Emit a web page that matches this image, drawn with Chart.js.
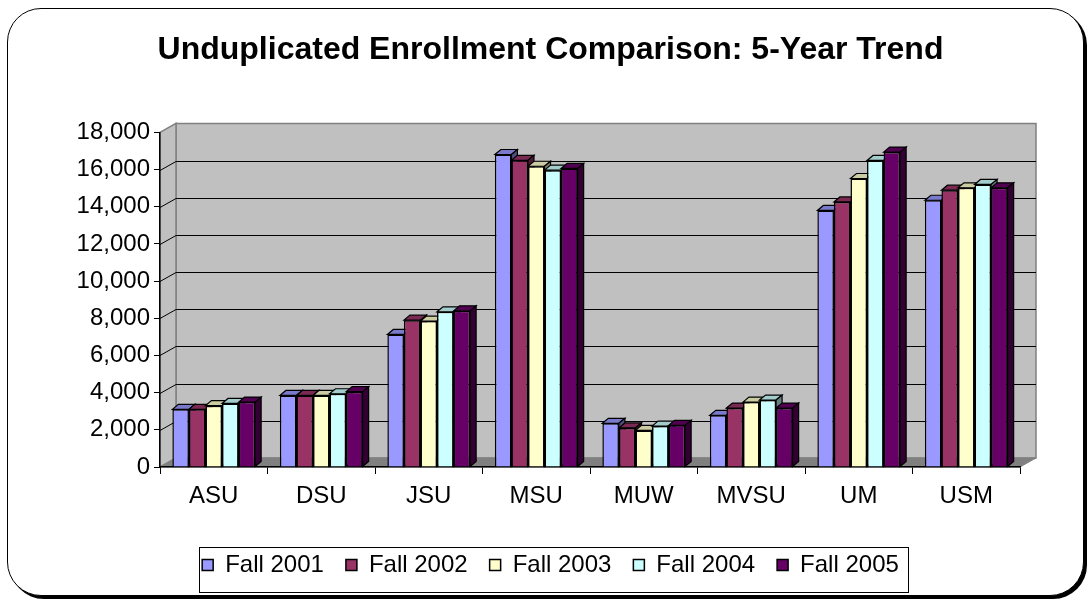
<!DOCTYPE html>
<html>
<head>
<meta charset="utf-8">
<script src="https://cdn.jsdelivr.net/npm/chart.js@4/dist/chart.umd.min.js"></script>
<style>
  body { margin: 0; background: #fff; }
  #frame {
    position: absolute; left: 7px; top: 8px; width: 1075px; height: 586px;
    border: 1.5px solid #000; border-radius: 34px; box-shadow: 3px 3px 0 #000;
    background: #fff;
  }
  #wrap { position: absolute; left: 0; top: 0; width: 1091px; height: 600px; }
</style>
</head>
<body>
<div id="frame"></div>
<div id="wrap"><canvas id="graphique"></canvas></div>
<script>
var schools = ['ASU', 'DSU', 'JSU', 'MSU', 'MUW', 'MVSU', 'UM', 'USM'];
var fall2001 = [3100, 3850, 7130, 16810, 2350, 2780, 13800, 14350];
var fall2002 = [3100, 3850, 7900, 16500, 2100, 3170, 14260, 14890];
var fall2003 = [3300, 3850, 7850, 16180, 1970, 3490, 15520, 15020];
var fall2004 = [3420, 3940, 8350, 15970, 2200, 3600, 16490, 15200];
var fall2005 = [3490, 4050, 8400, 16060, 2240, 3170, 16940, 15020];
var yTicks = [0, 2000, 4000, 6000, 8000, 10000, 12000, 14000, 16000, 18000];

var couleurs = ['#9999FF', '#993366', '#FFFFCC', '#CCFFFF', '#660066'];

// depth of the fake 3d walls and of the bars
var wallDx = 16, wallDy = -9;
var barDx = 6, barDy = -5;

function assombrir(hex, f) {
  var r = parseInt(hex.substr(1, 2), 16), g = parseInt(hex.substr(3, 2), 16), b = parseInt(hex.substr(5, 2), 16);
  return 'rgb(' + Math.round(r * f) + ',' + Math.round(g * f) + ',' + Math.round(b * f) + ')';
}

function poly(ctx, pts, fill, stroke, lw) {
  ctx.beginPath();
  ctx.moveTo(pts[0][0], pts[0][1]);
  for (var i = 1; i < pts.length; i++) ctx.lineTo(pts[i][0], pts[i][1]);
  ctx.closePath();
  if (fill) { ctx.fillStyle = fill; ctx.fill(); }
  if (stroke) { ctx.strokeStyle = stroke; ctx.lineWidth = lw || 1; ctx.stroke(); }
}

var murs = {
  id: 'murs',
  beforeDraw: function(chart) {
    var ctx = chart.ctx, a = chart.chartArea, ys = chart.scales.y;
    ctx.save();
    // back wall
    poly(ctx, [[a.left + wallDx, a.top + wallDy], [a.right + wallDx, a.top + wallDy],
               [a.right + wallDx, a.bottom + wallDy], [a.left + wallDx, a.bottom + wallDy]], '#C0C0C0', '#808080', 1.5);
    // side wall
    poly(ctx, [[a.left, a.top], [a.left + wallDx, a.top + wallDy],
               [a.left + wallDx, a.bottom + wallDy], [a.left, a.bottom]], '#C0C0C0', '#808080', 1.5);
    // floor
    poly(ctx, [[a.left, a.bottom], [a.left + wallDx, a.bottom + wallDy],
               [a.right + wallDx, a.bottom + wallDy], [a.right, a.bottom]], '#808080', '#808080', 1);
    // gridlines
    ctx.strokeStyle = '#000';
    ctx.lineWidth = 1;
    yTicks.forEach(function(v) {
      if (v === 0 || v === yTicks[yTicks.length - 1]) return;
      var y = Math.round(ys.getPixelForValue(v)) + 0.5;
      ctx.beginPath();
      ctx.moveTo(a.left, y);
      ctx.lineTo(a.left + wallDx, y + wallDy);
      ctx.lineTo(a.right + wallDx, y + wallDy);
      ctx.stroke();
    });
    ctx.restore();
  },
  beforeDatasetsDraw: function(chart) {
    var ctx = chart.ctx;
    ctx.save();
    chart.data.datasets.forEach(function(ds, i) {
      var meta = chart.getDatasetMeta(i);
      meta.data.forEach(function(el) {
        var l = el.x - el.width / 2, r = el.x + el.width / 2;
        poly(ctx, [[l, el.y], [l + barDx, el.y + barDy], [r + barDx, el.y + barDy], [r, el.y]],
             assombrir(couleurs[i], 0.8), '#000', 1.2);
        poly(ctx, [[r, el.y], [r + barDx, el.y + barDy], [r + barDx, el.base + barDy], [r, el.base]],
             assombrir(couleurs[i], 0.5), '#000', 1.2);
      });
    });
    ctx.restore();
  },
  afterDraw: function(chart) {
    var boxes = chart.legend.legendHitBoxes;
    if (!boxes || !boxes.length) return;
    var first = boxes[0], last = boxes[boxes.length - 1];
    var ctx = chart.ctx;
    ctx.save();
    ctx.strokeStyle = '#000';
    ctx.lineWidth = 1;
    ctx.strokeRect(Math.round(first.left - 3) + 0.5, Math.round(first.top - 6) + 0.5,
                   Math.round(last.left + last.width + 9 - (first.left - 3)), 45);
    ctx.restore();
  }
};

Chart.defaults.font.family = '"Liberation Sans", Arial, sans-serif';
Chart.defaults.color = '#000';

var donnee = {
  labels: schools,
  datasets: [
    { label: 'Fall 2001', data: fall2001 },
    { label: 'Fall 2002', data: fall2002 },
    { label: 'Fall 2003', data: fall2003 },
    { label: 'Fall 2004', data: fall2004 },
    { label: 'Fall 2005', data: fall2005 }
  ].map(function(d, i) {
    d.backgroundColor = couleurs[i];
    d.borderColor = '#000';
    d.borderWidth = 1.5;
    d.categoryPercentage = 0.77;
    d.barPercentage = 1.0;
    return d;
  })
};

var config = {
  type: 'bar',
  data: donnee,
  plugins: [murs],
  options: {
    responsive: false,
    animation: false,
    layout: { padding: { left: 10, right: 0, top: 0, bottom: 13 } },
    plugins: {
      title: {
        display: true,
        text: 'Unduplicated Enrollment Comparison: 5-Year Trend',
        font: { size: 32, weight: 'bold' },
        padding: { top: 31, bottom: 63 }
      },
      legend: {
        position: 'bottom',
        labels: { font: { size: 24 }, boxWidth: 11, boxHeight: 11, padding: 22 }
      },
      tooltip: { enabled: false }
    },
    scales: {
      x: {
        grid: { drawOnChartArea: false, tickLength: 7, color: '#000', offset: true },
        border: { color: '#000', width: 1.5 },
        ticks: { font: { size: 24 }, padding: 8 },
        afterFit: function(s) { s.height = 64; }
      },
      y: {
        min: 0,
        max: 18000,
        grid: { drawOnChartArea: false, tickLength: 6, color: '#000' },
        border: { color: '#000', width: 1.5 },
        ticks: { stepSize: 2000, font: { size: 24 }, padding: 4 },
        afterFit: function(s) { s.width = 150; }
      },
      // empty axis that only keeps the space at the right of the plot
      y2: {
        position: 'right',
        min: 0,
        max: 18000,
        grid: { display: false },
        border: { display: false },
        ticks: { display: false },
        afterFit: function(s) { s.width = 71; }
      }
    }
  }
};

var c = document.getElementById('graphique');
c.width = 1091;
c.height = 600;
var graph1 = new Chart(c.getContext('2d'), config);
</script>
</body>
</html>
